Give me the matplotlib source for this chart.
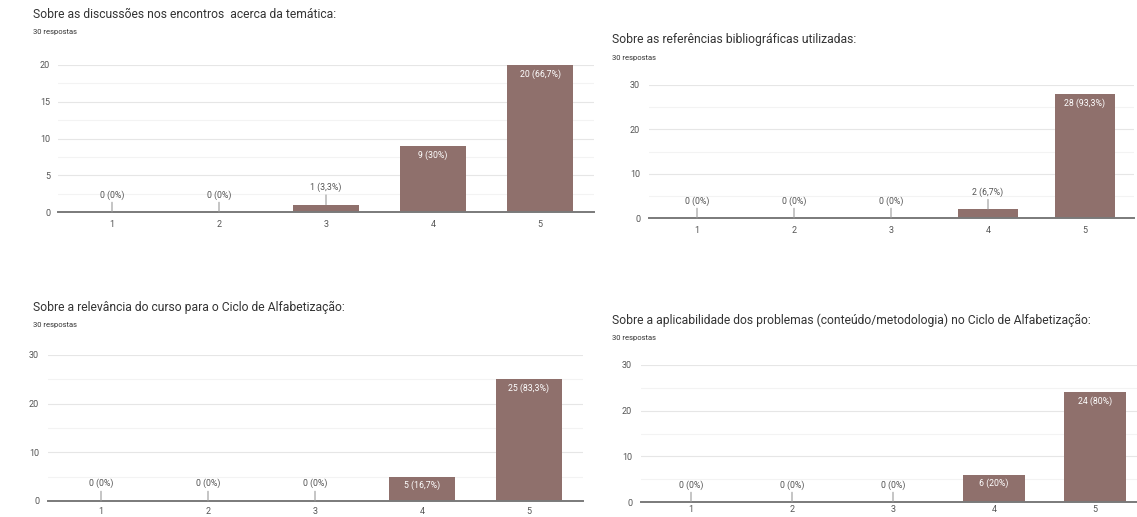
import matplotlib
matplotlib.use('Agg')
import matplotlib.pyplot as plt
import numpy as np

plt.rcParams['font.family'] = ['Roboto', 'DejaVu Sans']

W, H = 1137, 517

categories = ['1', '2', '3', '4', '5']

title_1 = 'Sobre as discussões nos encontros  acerca da temática:'
title_2 = 'Sobre as referências bibliográficas utilizadas:'
title_3 = 'Sobre a relevância do curso para o Ciclo de Alfabetização:'
title_4 = 'Sobre a aplicabilidade dos problemas (conteúdo/metodologia) no Ciclo de Alfabetização:'

counts_1 = [0, 0, 1, 9, 20]
counts_2 = [0, 0, 0, 2, 28]
counts_3 = [0, 0, 0, 5, 25]
counts_4 = [0, 0, 0, 6, 24]

labels_1 = ['0 (0%)', '0 (0%)', '1 (3,3%)', '9 (30%)', '20 (66,7%)']
labels_2 = ['0 (0%)', '0 (0%)', '0 (0%)', '2 (6,7%)', '28 (93,3%)']
labels_3 = ['0 (0%)', '0 (0%)', '0 (0%)', '5 (16,7%)', '25 (83,3%)']
labels_4 = ['0 (0%)', '0 (0%)', '0 (0%)', '6 (20%)', '24 (80%)']

respostas = '30 respostas'

bar_color = '#8f706c'
text_color = '#555555'

fig = plt.figure(figsize=(W / 100, H / 100), dpi=100)


def px_axes(x0, x1, ytop, ybot):
    # pixel box -> figure fraction
    return fig.add_axes([x0 / W, 1 - ybot / H, (x1 - x0) / W, (ybot - ytop) / H])


def draw_panel(box, title, tx, ty, counts, labels, ymax, major, inside_min, xpad=6):
    ax = px_axes(*box)
    x = np.arange(1, len(categories) + 1)
    ax.bar(x, counts, width=0.61, color=bar_color, zorder=3)
    ax.set_xlim(0.5, len(categories) + 0.5)
    ax.set_ylim(0, ymax)
    ax.set_xticks(x)
    ax.set_xticklabels(categories)
    ax.set_yticks(np.arange(0, ymax + 0.1, major))
    ax.set_yticks(np.arange(major / 2, ymax, major), minor=True)
    ax.grid(axis='y', which='major', color='#e6e6e6', lw=0.8, zorder=0)
    ax.grid(axis='y', which='minor', color='#f3f3f3', lw=0.8, zorder=0)
    ax.tick_params(axis='both', which='both', length=0, labelsize=6.5,
                   labelcolor=text_color, pad=6)
    ax.tick_params(axis='x', pad=xpad)
    for s in ['top', 'right', 'left']:
        ax.spines[s].set_visible(False)
    ax.spines['bottom'].set_color('#7a7a7a')
    ax.spines['bottom'].set_linewidth(1.4)
    ax.spines['bottom'].set_zorder(4)

    for xi, v, lab in zip(x, counts, labels):
        if v >= inside_min:
            ax.annotate(lab, xy=(xi, v), xytext=(0, -3), textcoords='offset points',
                        ha='center', va='top', fontsize=6.3, color='white', zorder=5)
        else:
            ax.annotate(lab, xy=(xi, v), xytext=(0, 9), textcoords='offset points',
                        ha='center', va='bottom', fontsize=6.3, color=text_color,
                        arrowprops=dict(arrowstyle='-', color='#999999', lw=0.8,
                                        shrinkA=0, shrinkB=0), zorder=5)

    fig.text(tx / W, 1 - ty / H, title, fontsize=8.7, color='#333333',
             ha='left', va='center')
    fig.text(tx / W, 1 - (ty + 18) / H, respostas, fontsize=5.5, color='#333333',
             ha='left', va='center')
    return ax


draw_panel((58.5, 593.5, 65, 212), title_1, 33, 14, counts_1, labels_1, 20, 5, 3)
draw_panel((648.5, 1133.5, 85, 218), title_2, 612, 40, counts_2, labels_2, 30, 10, 4)
draw_panel((47.5, 582.5, 355, 501), title_3, 33, 307, counts_3, labels_3, 30, 10, 4, xpad=4)
draw_panel((640.5, 1145.5, 365, 502), title_4, 612, 320, counts_4, labels_4, 30, 10, 4, xpad=2)

fig.savefig('out.png', dpi=100, facecolor='white')
